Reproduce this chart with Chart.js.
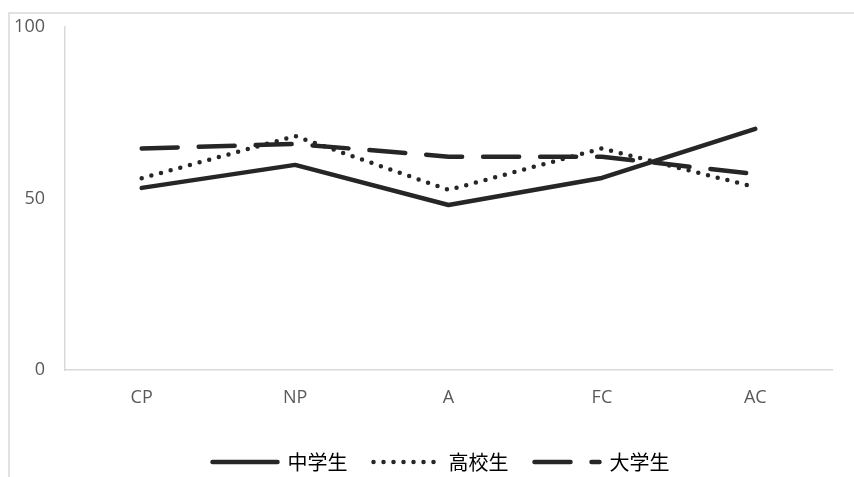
<!DOCTYPE html>
<html>
<head>
<meta charset="utf-8">
<script src="https://cdn.jsdelivr.net/npm/chart.js@4/dist/chart.umd.min.js"></script>
<style>
  html, body { margin: 0; padding: 0; background: #fff; overflow: hidden; }
  canvas { display: block; }
</style>
</head>
<body>
<canvas id="chart" width="854" height="477"></canvas>
<script>
// Scores per category for each student group
const categories = ['CP', 'NP', 'A', 'FC', 'AC'];
const juniorHigh = [53.1, 59.8, 48.1, 56.0, 70.3];
const highSchool = [55.9, 68.2, 52.5, 64.6, 53.3];
const university = [64.6, 65.9, 62.2, 62.2, 57.1];
const seriesNames = ['中学生', '高校生', '大学生'];
const yTicks = [0, 50, 100];

const INK = '#262626';
const TEXT = '#595959';
const FRAME = '#d9d9d9';
const CLEAR = 'rgba(0,0,0,0)';
const LEGEND_SHIFT = 20;

// Light frame around the chart (only its top and left edges fall inside the page)
const framePlugin = {
  id: 'frame',
  beforeDraw(chart) {
    const ctx = chart.ctx;
    ctx.save();
    ctx.strokeStyle = FRAME;
    ctx.lineWidth = 1.5;
    ctx.beginPath();
    ctx.moveTo(9, chart.height + 2);
    ctx.lineTo(9, 13);
    ctx.lineTo(chart.width + 2, 13);
    ctx.stroke();
    ctx.restore();
  }
};

// Nudge the legend row to the right so it sits under the plot
const legendShiftPlugin = {
  id: 'legendShift',
  afterLayout(chart) {
    if (chart.legend) {
      chart.legend.left += LEGEND_SHIFT;
      chart.legend.right += LEGEND_SHIFT;
    }
  }
};

const lineBase = {
  borderColor: INK,
  backgroundColor: INK,
  borderWidth: 4.5,
  pointRadius: 0,
  pointHoverRadius: 0,
  tension: 0,
  fill: false,
  borderCapStyle: 'round',
  borderJoinStyle: 'round'
};

new Chart(document.getElementById('chart'), {
  type: 'line',
  data: {
    labels: categories,
    datasets: [
      Object.assign({}, lineBase, { label: seriesNames[0], data: juniorHigh, borderDash: [] }),
      Object.assign({}, lineBase, { label: seriesNames[1], data: highSchool, borderDash: [0, 10] }),
      Object.assign({}, lineBase, { label: seriesNames[2], data: university, borderDash: [36, 21] })
    ]
  },
  options: {
    responsive: false,
    animation: false,
    devicePixelRatio: 1,
    layout: { padding: { left: 10, right: 22, top: 27, bottom: -5 } },
    plugins: {
      tooltip: { enabled: false },
      legend: {
        position: 'bottom',
        align: 'center',
        labels: {
          usePointStyle: true,
          pointStyleWidth: 65,
          padding: 26,
          color: TEXT,
          font: { family: '"Noto Sans CJK JP", "Noto Sans", sans-serif', size: 20 },
          generateLabels(chart) {
            return chart.data.datasets.map((ds, i) => ({
              text: ds.label,
              fillStyle: ds.borderColor,
              strokeStyle: ds.borderColor,
              lineWidth: ds.borderWidth,
              lineDash: ds.borderDash,
              lineCap: ds.borderCapStyle,
              lineJoin: 'round',
              pointStyle: 'line',
              hidden: false,
              datasetIndex: i
            }));
          }
        }
      }
    },
    scales: {
      x: {
        offset: true,
        grid: { display: false, drawTicks: false },
        border: { display: true, color: FRAME, width: 1.5 },
        ticks: {
          color: TEXT,
          padding: 17,
          font: { family: '"Open Sans", sans-serif', size: 18 },
          maxRotation: 0
        },
        afterFit(scale) { scale.height = 56; }
      },
      y: {
        min: 0,
        max: 100,
        // invisible tick marks keep the labels clear of the axis line
        grid: { display: true, color: CLEAR, drawTicks: true, tickLength: 18 },
        border: { display: true, color: FRAME, width: 1.5 },
        afterBuildTicks(scale) { scale.ticks = yTicks.map(v => ({ value: v })); },
        ticks: {
          color: TEXT,
          padding: 2,
          autoSkip: false,
          font: { family: '"Open Sans", sans-serif', size: 18 }
        },
        afterFit(scale) { scale.width = 55; }
      }
    }
  },
  plugins: [framePlugin, legendShiftPlugin]
});
</script>
</body>
</html>
